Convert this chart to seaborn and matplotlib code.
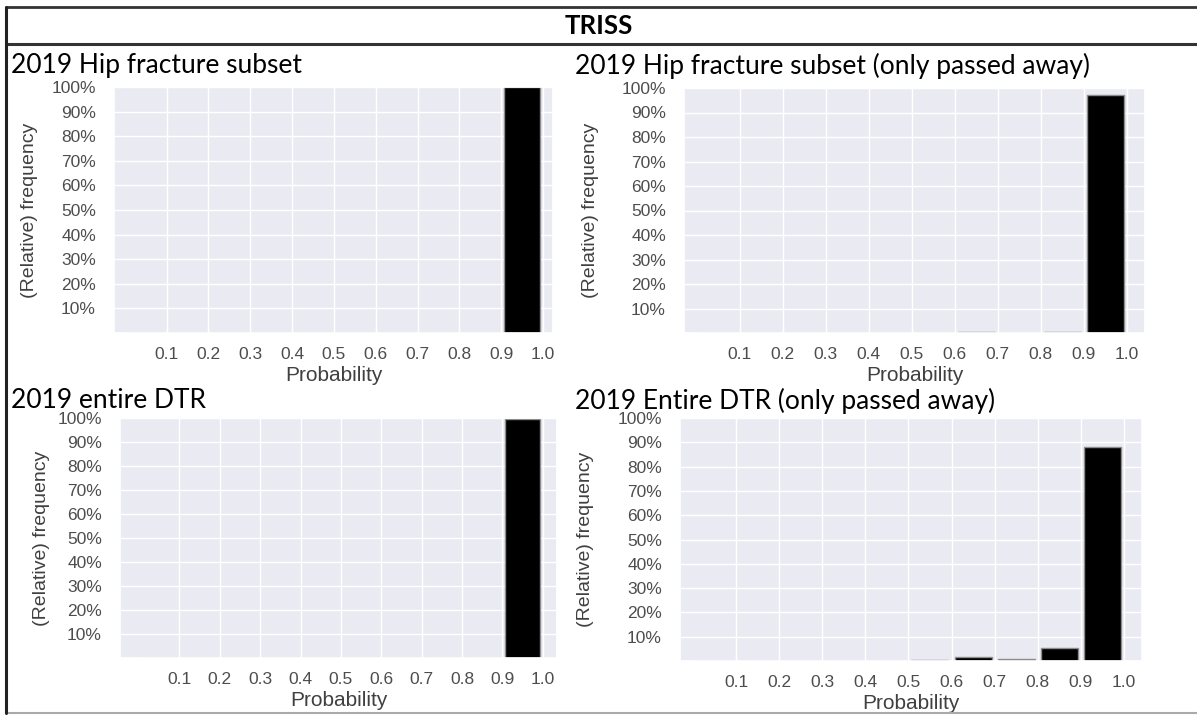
import numpy as np
import matplotlib
matplotlib.use("Agg")
import matplotlib.pyplot as plt
from matplotlib.lines import Line2D
from matplotlib.ticker import PercentFormatter
import seaborn as sns

# data: relative frequency per probability bin (0.0-0.1 ... 0.9-1.0)
bin_edges = [0.0, 0.1, 0.2, 0.3, 0.4, 0.5, 0.6, 0.7, 0.8, 0.9, 1.0]
bin_mids = [0.05, 0.15, 0.25, 0.35, 0.45, 0.55, 0.65, 0.75, 0.85, 0.95]
hip_all = [0, 0, 0, 0, 0, 0, 0, 0, 0, 1.0]
hip_died = [0, 0, 0, 0, 0, 0, 0.004, 0, 0.004, 0.972]
dtr_all = [0, 0, 0, 0, 0, 0, 0, 0, 0.001, 0.995]
dtr_died = [0, 0, 0, 0.001, 0, 0.004, 0.018, 0.008, 0.053, 0.88]

titles = ["2019 Hip fracture subset",
          "2019 Hip fracture subset (only passed away)",
          "2019 entire DTR",
          "2019 Entire DTR (only passed away)"]
series = [hip_all, hip_died, dtr_all, dtr_died]
y_ticks = [0.1, 0.2, 0.3, 0.4, 0.5, 0.6, 0.7, 0.8, 0.9, 1.0]

sns.set_theme(style="darkgrid")
plt.rcParams['font.family'] = ['Liberation Sans', 'DejaVu Sans']

W, H = 1197, 715
fig = plt.figure(figsize=(W / 100, H / 100), dpi=100)
fig.patch.set_facecolor("white")


def px_rect(l, t, r, b):
    return [l / W, 1 - b / H, (r - l) / W, (b - t) / H]


def hline(y, x0, x1, color, lw):
    fig.add_artist(Line2D([x0 / W, x1 / W], [1 - y / H, 1 - y / H],
                          color=color, lw=lw, transform=fig.transFigure))


# table borders
hline(7, 6, W, "#333333", 2.0)
hline(44, 6, W, "#333333", 2.2)
hline(713, 6, W, "#aaaaaa", 1.5)
fig.add_artist(Line2D([6 / W, 6 / W], [1 - 7 / H, 1 - 713 / H],
                      color="#222222", lw=2.2, transform=fig.transFigure))
fig.text(599 / W, 1 - 26 / H, "TRISS", ha="center", va="center",
         fontsize=18.5, fontweight="bold", family=["Lato", "DejaVu Sans"], color="black")

title_pos = [(11, 66), (575, 66), (11, 401), (575, 401)]
ax_rects = [(114, 87, 553, 333), (684, 88, 1145, 333),
            (120, 418, 557, 658), (680, 418, 1142, 661)]
xlims = [(-0.026, 1.024), (-0.03, 1.042), (-0.047, 1.035), (-0.03, 1.042)]
ylabel_pads = [10, 16, 5, 17]

for i in range(4):
    tx, ty = title_pos[i]
    fig.text(tx / W, 1 - ty / H, titles[i], ha="left", va="center",
             fontsize=19, family=["Lato", "DejaVu Sans"], color="black")
    ax = fig.add_axes(px_rect(*ax_rects[i]))
    sns.histplot(x=bin_mids, weights=series[i], bins=bin_edges, shrink=0.86,
                 color="black", edgecolor="0.55", linewidth=1, alpha=1, ax=ax)
    ax.set_xlim(*xlims[i])
    ax.set_ylim(0, 1.0)
    ax.set_xticks(bin_edges[1:])
    ax.set_xticklabels([f"{v:.1f}" for v in bin_edges[1:]])
    ax.set_yticks(y_ticks)
    ax.yaxis.set_major_formatter(PercentFormatter(1.0, decimals=0))
    ax.tick_params(axis="x", labelsize=12.5, colors="0.3", pad=4)
    ax.tick_params(axis="y", labelsize=12.5, colors="0.3", pad=7)
    ax.set_xlabel("Probability", fontsize=15, color="0.25", labelpad=3)
    ax.set_ylabel("(Relative) frequency", fontsize=14, color="0.25",
                  labelpad=ylabel_pads[i])

fig.savefig("out.png", dpi=100, facecolor="white")
